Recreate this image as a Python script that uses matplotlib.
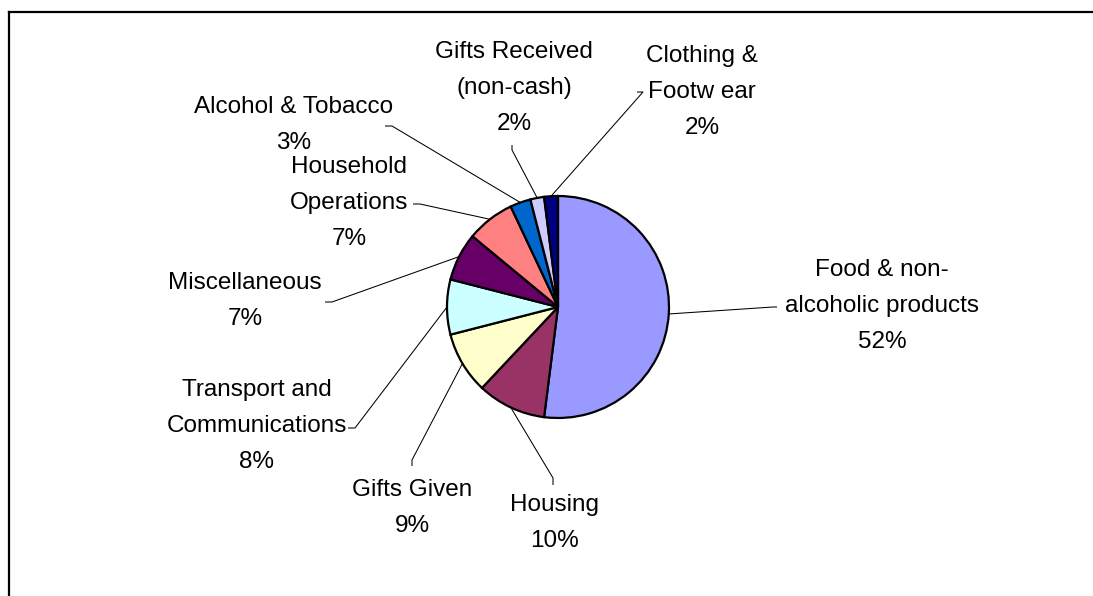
import numpy as np
import matplotlib
matplotlib.use("Agg")
import matplotlib.pyplot as plt

# Pie data (clockwise from 12 o'clock)
categories = ["Food & non-\nalcoholic products", "Housing", "Gifts Given",
              "Transport and\nCommunications", "Miscellaneous",
              "Household\nOperations", "Alcohol & Tobacco",
              "Gifts Received\n(non-cash)", "Clothing &\nFootw ear"]
shares = [52, 10, 9, 8, 7, 7, 3, 2, 2]
colors = ["#9999FF", "#993366", "#FFFFCC", "#CCFFFF", "#660066",
          "#FF8080", "#0066CC", "#CCCCFF", "#000080"]

W, H = 1093, 596
plt.rcParams['font.family'] = ['Liberation Sans', 'DejaVu Sans']

fig = plt.figure(figsize=(W / 100, H / 100), dpi=100)
ax = fig.add_axes([0, 0, 1, 1])


def fy(y):
    # image row -> axes y
    return H - y


cx, cy, r = 558, fy(307), 111
wedges, _ = ax.pie(shares, colors=colors, startangle=90, counterclock=False,
                   center=(cx, cy), radius=r, frame=True,
                   wedgeprops=dict(edgecolor='black', linewidth=1.6))
ax.set_xlim(0, W)
ax.set_ylim(0, H)
ax.set_aspect('equal')
ax.axis('off')

# label layout: text centre, leader end, tick end (image pixels)
layout = [
    ((882, 306), (773, 307), (777, 307)),
    ((555, 523), (553, 478), (553, 485)),
    ((412, 508), (412, 460), (412, 466)),
    ((257, 426), (355, 428), (348, 428)),
    ((245, 301), (332, 302), (325, 302)),
    ((349, 203), (420, 204), (413, 204)),
    ((294, 125), (392, 126), (385, 126)),
    ((514, 88), (512, 150), (512, 145)),
    ((702, 92), (643, 92), (637, 92)),
]

for w, name, val, (txt, end, tick) in zip(wedges, categories, shares, layout):
    ang = np.deg2rad((w.theta1 + w.theta2) / 2)
    px, py = cx + r * np.cos(ang), cy + r * np.sin(ang)
    ax.plot([px, end[0], tick[0]], [py, fy(end[1]), fy(tick[1])],
            color='black', lw=0.75, solid_capstyle='butt')
    ax.text(txt[0], fy(txt[1]), f"{name}\n{val}%", ha='center', va='center',
            fontsize=17.5, linespacing=1.85, color='black')

# chart area border (top and left visible)
ax.plot([9, W], [fy(12), fy(12)], color='black', lw=1.6)
ax.plot([9, 9], [fy(12), 0], color='black', lw=1.6)

fig.savefig("out.png", dpi=100)
